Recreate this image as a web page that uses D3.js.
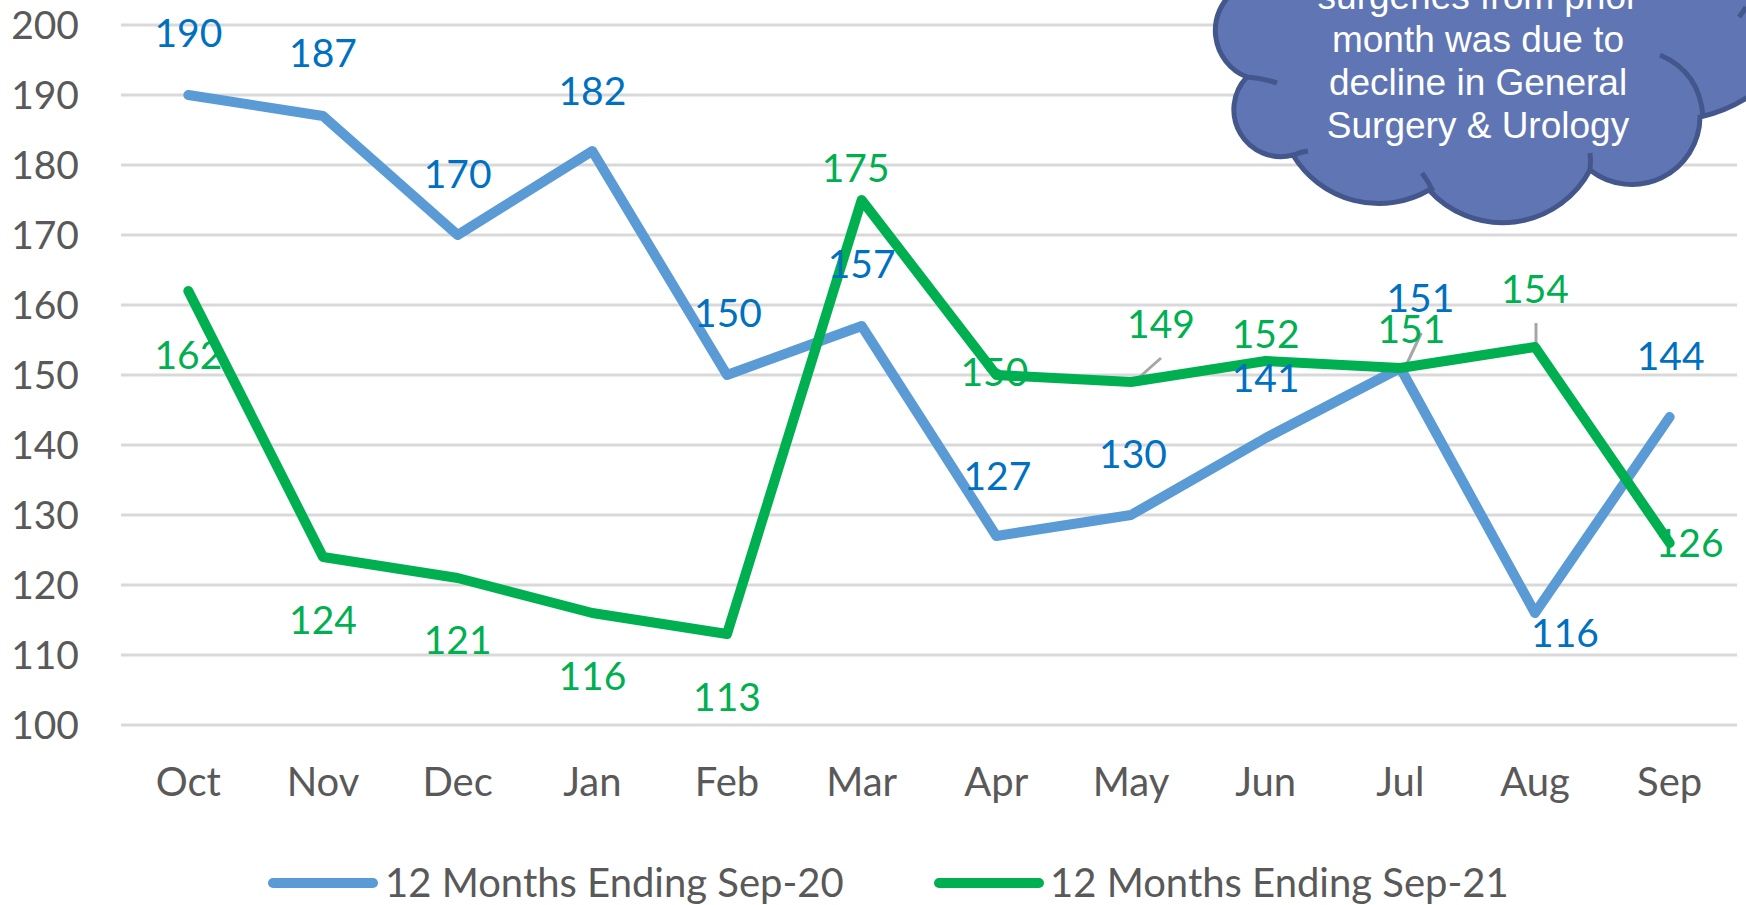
<!DOCTYPE html>
<html>
<head>
<meta charset="utf-8">
<script src="https://cdn.jsdelivr.net/npm/d3@7/dist/d3.min.js"></script>
<style>
  html, body { margin: 0; padding: 0; background: #ffffff; }
  svg { display: block; }
</style>
</head>
<body>
<svg id="chart" width="1746" height="905"></svg>
<script>
// ---------- data ----------
const months = ["Oct", "Nov", "Dec", "Jan", "Feb", "Mar", "Apr", "May", "Jun", "Jul", "Aug", "Sep"];
const seriesNames = ["12 Months Ending Sep-20", "12 Months Ending Sep-21"];
const valuesSep20 = [190, 187, 170, 182, 150, 157, 127, 130, 141, 151, 116, 144];
const valuesSep21 = [162, 124, 121, 116, 113, 175, 150, 149, 152, 151, 154, 126];
const yTicks = [100, 110, 120, 130, 140, 150, 160, 170, 180, 190, 200];
const calloutLines = ["surgeries from prior", "month was due to", "decline in General", "Surgery & Urology"];

// ---------- layout (label offsets relative to each point: [dx, baseline dy]) ----------
const labelOffsets20 = [[0,-48],[0,-49],[0,-47],[0,-46],[1,-48],[0,-48],[1,-46],[2,-47],[0,-46],[20,-56],[30,34],[1,-47]];
const labelOffsets21 = [[0,78],[0,77],[0,76],[0,77],[0,77],[-6,-18],[-2,11],[30,-44],[0,-13],[11,-25],[0,-44],[20,14]];
// leader lines for some Sep-21 labels: index -> [x1,y1,x2,y2] relative to point
const leaders21 = {7: [3, 0, 30, -24], 9: [5, -1, 21, -35], 10: [1, 0, 1, -24]};

const colors = { s20: "#5B9BD5", s21: "#00B050", lab20: "#0070C0", lab21: "#00B050",
                 grid: "#D9D9D9", axisText: "#595959" };
const FONT = "Lato, 'Open Sans', sans-serif";

const svg = d3.select("#chart");
const W = 1746, H = 905;
svg.append("rect").attr("width", W).attr("height", H).attr("fill", "#fff");

const x = d3.scaleBand().domain(months).range([121, 1737]);
const y = d3.scaleLinear().domain([100, 200]).range([725, 25]);
const cx = m => x(m) + x.bandwidth() / 2;

// gridlines
svg.append("g").selectAll("line").data(yTicks).join("line")
  .attr("x1", 121).attr("x2", 1737)
  .attr("y1", d => y(d)).attr("y2", d => y(d))
  .attr("stroke", colors.grid).attr("stroke-width", 3);

// y labels
svg.append("g").selectAll("text").data(yTicks).join("text")
  .attr("x", 79).attr("y", d => y(d) + 13.5)
  .attr("text-anchor", "end")
  .attr("font-family", FONT).attr("font-size", 39).attr("fill", colors.axisText)
  .text(d => d);

// x labels
svg.append("g").selectAll("text").data(months).join("text")
  .attr("x", d => cx(d)).attr("y", 796)
  .attr("text-anchor", "middle")
  .attr("font-family", FONT).attr("font-size", 40).attr("fill", colors.axisText)
  .text(d => d);

// leader lines
Object.entries(leaders21).forEach(([i, l]) => {
  const px = cx(months[i]), py = y(valuesSep21[i]);
  svg.append("line")
    .attr("x1", px + l[0]).attr("y1", py + l[1])
    .attr("x2", px + l[2]).attr("y2", py + l[3])
    .attr("stroke", "#A6A6A6").attr("stroke-width", 3);
});

// lines
const line = d3.line().x((d, i) => cx(months[i])).y(d => y(d));
svg.append("path").datum(valuesSep20).attr("d", line)
  .attr("fill", "none").attr("stroke", colors.s20).attr("stroke-width", 10)
  .attr("stroke-linecap", "round").attr("stroke-linejoin", "round");
svg.append("path").datum(valuesSep21).attr("d", line)
  .attr("fill", "none").attr("stroke", colors.s21).attr("stroke-width", 10)
  .attr("stroke-linecap", "round").attr("stroke-linejoin", "round");

// data labels
function labels(vals, offs, color) {
  svg.append("g").selectAll("text").data(vals).join("text")
    .attr("x", (d, i) => cx(months[i]) + offs[i][0])
    .attr("y", (d, i) => y(d) + offs[i][1])
    .attr("text-anchor", "middle")
    .attr("font-family", FONT).attr("font-size", 39).attr("fill", color)
    .text(d => d);
}
labels(valuesSep20, labelOffsets20, colors.lab20);
labels(valuesSep21, labelOffsets21, colors.lab21);

// legend
const legend = svg.append("g");
[[273, 373, 385, colors.s20, seriesNames[0]], [939, 1039, 1050, colors.s21, seriesNames[1]]].forEach(l => {
  legend.append("line").attr("x1", l[0]).attr("x2", l[1]).attr("y1", 883).attr("y2", 883)
    .attr("stroke", l[3]).attr("stroke-width", 10).attr("stroke-linecap", "round");
  legend.append("text").attr("x", l[2]).attr("y", 897)
    .attr("font-family", FONT).attr("font-size", 40).attr("fill", colors.axisText)
    .text(l[4]);
});

// cloud callout
const cloud = svg.append("g");
const cloudPath = [
  "M1236,-20",
  "L1236,-10",
  "A50,50 0 0 0 1247,77",
  "A47,47 0 0 0 1293,155",
  "A100,100 0 0 0 1429,190",
  "A99,99 0 0 0 1590,170",
  "A68,68 0 0 0 1700,117",
  "A150,150 0 0 0 1800,40",
  "L1800,-20 Z"
].join(" ");
cloud.append("path").attr("d", cloudPath)
  .attr("fill", "#6076B4").attr("stroke", "#44578C").attr("stroke-width", 5);
const inner = [
  "M1247,77 Q1262,78 1277,83",
  "M1294,155 Q1300,152 1308,151",
  "M1433,191 Q1428,181 1422,173",
  "M1590,170 Q1591,161 1590,153",
  "M1660,55 Q1700,72 1703,117",
  "M1739,17 Q1743,12 1746,7"
];
cloud.selectAll("path.inner").data(inner).join("path").attr("class", "inner")
  .attr("d", d => d).attr("fill", "none").attr("stroke", "#44578C").attr("stroke-width", 5);
cloud.selectAll("text").data(calloutLines).join("text")
  .attr("x", 1478).attr("y", (d, i) => 9 + i * 43)
  .attr("text-anchor", "middle")
  .attr("font-family", "'Liberation Sans', Arial, sans-serif").attr("font-size", 37)
  .attr("fill", "#ffffff")
  .text(d => d);
</script>
</body>
</html>
